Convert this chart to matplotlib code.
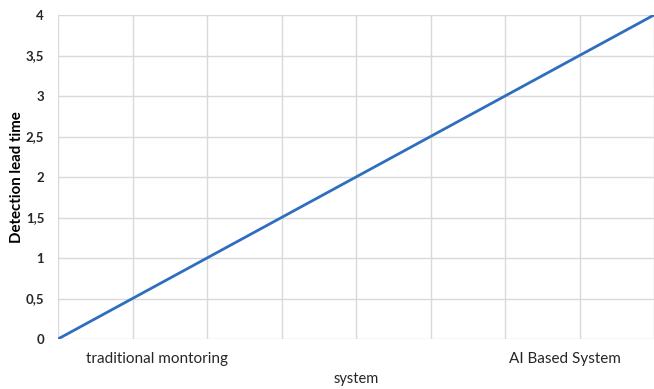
import matplotlib
matplotlib.use("Agg")
import matplotlib.pyplot as plt
from matplotlib.ticker import FuncFormatter

# Data
series_x = [0, 8]
series_y = [0, 4]
category_labels = ["traditional montoring", "AI Based System"]
y_ticks = [0, 0.5, 1, 1.5, 2, 2.5, 3, 3.5, 4]
x_title = "system"
y_title = "Detection lead time"

# Layout
label_positions = [1.33, 6.8]

plt.rcParams['font.family'] = ['Lato', 'DejaVu Sans']

fig = plt.figure(figsize=(6.54, 3.89), dpi=100)
ax = fig.add_axes([58/654, 1-339/389, (654-58)/654, (339-15)/389])

ax.plot(series_x, series_y, color='#2f6ebf', lw=2, solid_capstyle='round', zorder=3)

ax.set_xlim(0, 8)
ax.set_ylim(0, 4)
ax.set_xticks(range(0, 9), minor=True)
ax.set_xticks(label_positions)
ax.set_xticklabels(category_labels, fontsize=11, color='#262626')
ax.set_yticks(y_ticks)
ax.yaxis.set_major_formatter(FuncFormatter(lambda v, p: (f"{v:g}").replace('.', ',')))
for t in ax.get_yticklabels():
    t.set_fontweight('bold')
    t.set_fontsize(9.5)
    t.set_color('#262626')

ax.tick_params(axis='x', which='both', length=0, pad=9)
ax.tick_params(axis='y', length=0, pad=10)
ax.grid(False)
ax.grid(True, axis='x', which='minor', color='#d9d9d9', lw=1)
ax.grid(True, axis='y', which='major', color='#d9d9d9', lw=1)
for s in ax.spines.values():
    s.set_visible(False)

ax.set_xlabel(x_title, fontsize=10.5, color='#262626', labelpad=5)
ax.set_ylabel(y_title, fontsize=10.8, fontweight='bold', color='#000000', labelpad=1.5)

fig.savefig("out.png", dpi=100)
